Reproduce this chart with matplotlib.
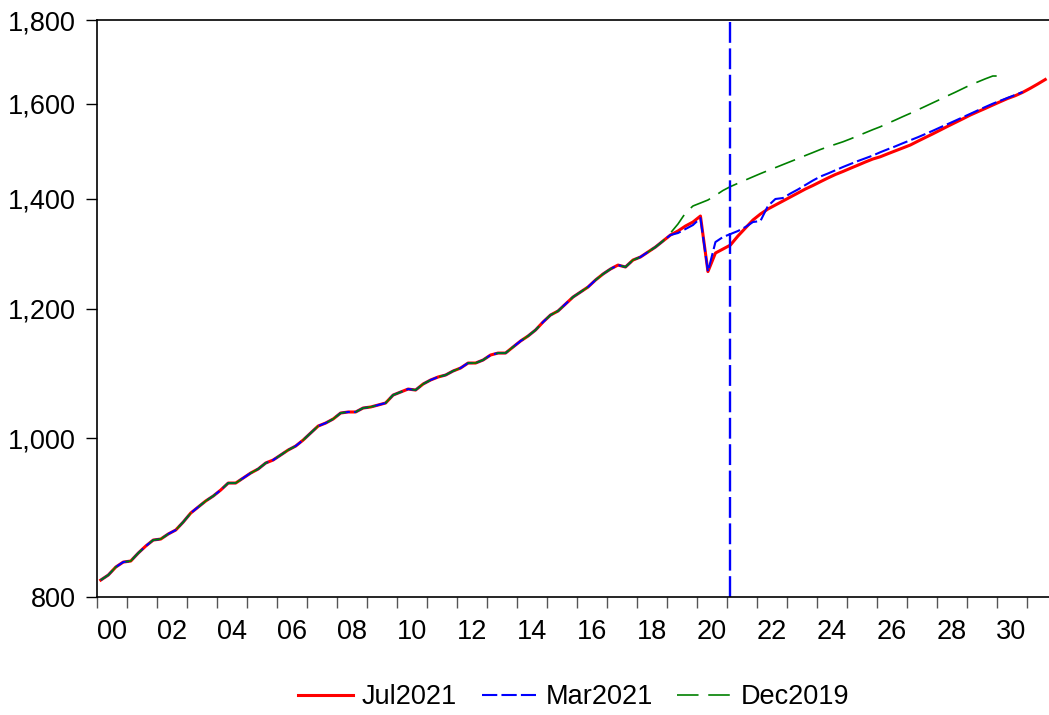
import matplotlib
matplotlib.use('Agg')
import matplotlib.pyplot as plt
import numpy as np
from matplotlib.ticker import FuncFormatter, NullLocator, FixedLocator

plt.rcParams['font.family'] = ['Liberation Sans', 'DejaVu Sans']
plt.rcParams['lines.scale_dashes'] = False

# quarterly, 2000Q1 - 2018Q4 (shared history)
history = [819.3, 825.1, 834.4, 840.3,
           841.5, 851.0, 859.4, 866.7,
           867.9, 874.1, 879.0, 888.9,
           900.2, 907.9, 915.6, 922.0,
           929.8, 939.0, 939.0, 945.6,
           952.3, 957.7, 965.8, 969.9,
           976.7, 983.6, 989.1, 997.5,
           1007.4, 1017.3, 1021.6, 1027.4,
           1036.1, 1037.6, 1037.6, 1043.4,
           1044.9, 1047.8, 1050.8, 1062.6,
           1067.1, 1071.6, 1070.1, 1079.2,
           1085.3, 1089.9, 1092.9, 1099.1,
           1103.7, 1111.5, 1111.5, 1116.2,
           1124.1, 1127.2, 1127.2, 1136.8,
           1146.4, 1154.5, 1164.3, 1177.4,
           1189.1, 1195.8, 1207.6, 1219.5,
           1228.1, 1236.8, 1249.0, 1259.6,
           1268.5, 1275.6, 1272.1, 1284.6,
           1290.1, 1299.2, 1308.3, 1319.4]

# from 2019Q1 on
jul2021 = [1330.6, 1338.1, 1347.5, 1355.1,
           1366.6, 1264.0, 1297.3, 1304.6,
           1312.0, 1328.7, 1343.7, 1358.9,
           1370.4, 1380.1, 1387.9, 1395.7,
           1403.6, 1411.5, 1419.5, 1426.5,
           1434.1, 1441.6, 1448.7, 1454.8,
           1461.4, 1467.8, 1474.4, 1480.6,
           1485.3, 1491.6, 1497.7, 1503.8,
           1510.0, 1518.1, 1526.0, 1533.9,
           1542.1, 1550.4, 1558.5, 1566.6,
           1575.0, 1582.4, 1589.7, 1597.3,
           1604.8, 1612.2, 1618.4, 1626.1,
           1635.3, 1645.2, 1655.6]

mar2021 = [1330.6, 1334.3, 1341.8, 1349.4,
           1362.7, 1264.0, 1317.5, 1326.8,
           1332.4, 1338.1, 1345.6, 1355.1,
           1357.0, 1386.0, 1399.7, 1401.6,
           1410.5, 1418.5, 1427.5, 1436.5,
           1444.6, 1450.7, 1457.3, 1464.0,
           1470.2, 1476.4, 1482.1, 1487.9,
           1494.8, 1501.1, 1507.2, 1513.8,
           1520.2, 1526.6, 1533.5, 1540.6,
           1548.0, 1555.2, 1562.6, 1570.1,
           1577.7, 1585.3, 1592.9, 1600.3,
           1607.0, 1613.6, 1620.2, 1626.8]

dec2019 = [1334.3, 1351.3, 1372.4, 1386.0,
           1391.8, 1397.7, 1406.6, 1416.5,
           1424.3, 1430.9, 1437.5, 1444.0,
           1450.5, 1456.7, 1462.8, 1469.0,
           1475.2, 1481.4, 1487.9, 1494.1,
           1500.5, 1506.2, 1511.5, 1516.8,
           1523.0, 1529.6, 1536.3, 1543.0,
           1549.3, 1556.7, 1564.0, 1571.5,
           1578.8, 1586.6, 1594.4, 1602.3,
           1610.2, 1618.4, 1626.3, 1634.6,
           1642.9, 1650.0, 1657.2, 1663.8,
           1663.8]

yticks = [800, 1000, 1200, 1400, 1600, 1800]
year_labels = ['%02d' % (y % 100) for y in range(2000, 2031, 2)]
vline_date = 2021.125  # Mar2021


def qtime(n):
    return 2000 + 0.125 + 0.25 * np.arange(n)


fig = plt.figure(figsize=(10.49, 7.15), dpi=100)
ax = fig.add_axes([0.0925, 0.165, 0.9075, 0.807])

series = [(history + jul2021, 'red', 2.2, '-', 'Jul2021'),
          (history + mar2021, 'blue', 1.5, (0, (11, 3)), 'Mar2021'),
          (history + dec2019, 'green', 1.2, (0, (15.5, 7)), 'Dec2019')]
for vals, col, lw, ls, lab in series:
    ax.plot(qtime(len(vals)), vals, color=col, lw=lw, linestyle=ls, label=lab)

ax.axvline(vline_date, color='blue', lw=1.7, linestyle=(0, (15, 4)))

ax.set_yscale('log')
ax.set_ylim(800, 1800)
ax.yaxis.set_major_locator(FixedLocator(yticks))
ax.yaxis.set_minor_locator(NullLocator())
ax.yaxis.set_major_formatter(FuncFormatter(lambda v, p: '{:,.0f}'.format(v)))

ax.set_xlim(2000, 2031.75)
ax.xaxis.set_major_locator(FixedLocator(np.arange(2000, 2032)))
ax.xaxis.set_major_formatter(FuncFormatter(lambda v, p: ''))
ax.xaxis.set_minor_locator(FixedLocator(np.arange(2000, 2031, 2) + 0.5))
ax.set_xticklabels(year_labels, minor=True)

ax.tick_params(axis='both', which='major', direction='out', length=8,
               width=1.0, labelsize=19.5, color='black')
ax.tick_params(axis='x', which='minor', length=0, labelsize=19.5, pad=16)
ax.tick_params(axis='y', pad=7)
ax.tick_params(axis='x', which='major', color='#555555')

ax.spines['right'].set_visible(False)
for s in ['left', 'top', 'bottom']:
    ax.spines[s].set_linewidth(1.2)

fig.legend(loc='center', bbox_to_anchor=(0.547, 0.025), ncol=3, frameon=False,
           fontsize=19.5, handlelength=2.0, handletextpad=0.35, columnspacing=0.9)

fig.savefig('out.png', dpi=100)
